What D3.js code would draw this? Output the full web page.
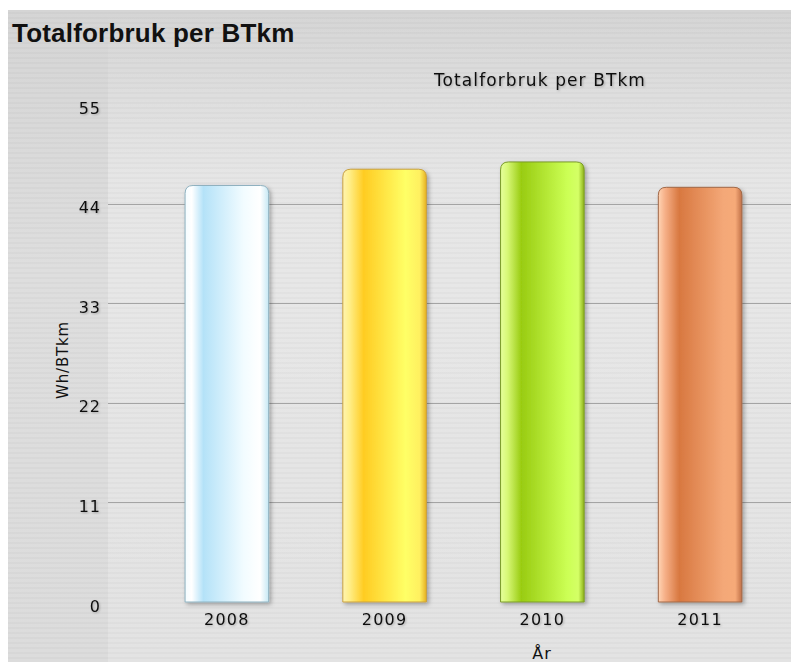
<!DOCTYPE html>
<html>
<head>
<meta charset="utf-8">
<script src="https://cdn.jsdelivr.net/npm/d3@7"></script>
<style>
    body { margin: 0; background: #fff; }
    svg text { font-family: "DejaVu Sans", Verdana, sans-serif; }
</style>
</head>
<body>
<svg id="chart" width="791" height="662"></svg>
<script>
const years = ["2008", "2009", "2010", "2011"];
const values = [46.0, 47.8, 48.6, 45.8];
const yTicks = [0, 11, 22, 33, 44, 55];
// gradient stops per bar: [offset, color]
const barStops = [
    [[0, "#f4fcff"], [0.08, "#ffffff"], [0.22, "#b4e2f8"], [0.7, "#f2fcff"], [0.9, "#ffffff"], [1, "#c6e8f4"]],
    [[0, "#fff4b0"], [0.08, "#ffee88"], [0.25, "#ffcc22"], [0.75, "#ffff66"], [0.92, "#fff060"], [1, "#e6b020"]],
    [[0, "#e6ff9c"], [0.08, "#d8f878"], [0.25, "#99cc11"], [0.8, "#ccff55"], [0.93, "#d4ff66"], [1, "#8cb018"]],
    [[0, "#ffd4b4"], [0.08, "#f6b088"], [0.25, "#d87840"], [0.78, "#f4a878"], [0.92, "#f6aa78"], [1, "#c07048"]]
];
const strokes = ["#8fb2c0", "#c8a040", "#7a9a28", "#a06848"];

const svg = d3.select("#chart");
const margin = { left: 108, top: 104, bottom: 602 };

const x = d3.scaleBand().domain(years).range([148, 779]).paddingInner(0.47).paddingOuter(0.235);
const y = d3.scaleLinear().domain([0, 55]).range([margin.bottom, margin.top]);

const defs = svg.append("defs");

// background: vertical gradient plus faint horizontal streaks
const bg = defs.append("linearGradient").attr("id", "bg")
    .attr("x1", 0).attr("x2", 0).attr("y1", 0).attr("y2", 1);
bg.append("stop").attr("offset", 0).attr("stop-color", "#d5d5d5");
bg.append("stop").attr("offset", 0.4).attr("stop-color", "#dedede");
bg.append("stop").attr("offset", 1).attr("stop-color", "#dcdcdc");

const streak = defs.append("pattern").attr("id", "streak")
    .attr("width", 8).attr("height", 5).attr("patternUnits", "userSpaceOnUse");
streak.append("rect").attr("y", 2).attr("width", 8).attr("height", 2)
    .attr("fill", "#000").attr("opacity", 0.025);

const plotBg = defs.append("linearGradient").attr("id", "plotbg")
    .attr("x1", 0).attr("x2", 0).attr("y1", 0).attr("y2", 1);
plotBg.append("stop").attr("offset", 0).attr("stop-color", "#fff").attr("stop-opacity", 0);
plotBg.append("stop").attr("offset", 0.25).attr("stop-color", "#fff").attr("stop-opacity", 0.3);
plotBg.append("stop").attr("offset", 1).attr("stop-color", "#fff").attr("stop-opacity", 0.2);

const shadow = defs.append("filter").attr("id", "shadow")
    .attr("x", "-20%").attr("y", "-20%").attr("width", "140%").attr("height", "140%");
shadow.append("feDropShadow").attr("dx", 2).attr("dy", 2).attr("stdDeviation", 2)
    .attr("flood-color", "#000").attr("flood-opacity", 0.3);

const textShadow = defs.append("filter").attr("id", "tshadow")
    .attr("x", "-20%").attr("y", "-40%").attr("width", "140%").attr("height", "180%");
textShadow.append("feDropShadow").attr("dx", 1).attr("dy", 1).attr("stdDeviation", 1)
    .attr("flood-color", "#000").attr("flood-opacity", 0.25);

barStops.forEach((stops, i) => {
    const g = defs.append("linearGradient").attr("id", "bar" + i)
        .attr("x1", 0).attr("x2", 1).attr("y1", 0).attr("y2", 0);
    stops.forEach(s => g.append("stop").attr("offset", s[0]).attr("stop-color", s[1]));
});

svg.append("rect").attr("x", 8).attr("y", 10).attr("width", 783).attr("height", 652)
    .attr("fill", "url(#bg)");
svg.append("rect").attr("x", margin.left).attr("y", 10).attr("width", 791 - margin.left).attr("height", 652)
    .attr("fill", "url(#plotbg)");
svg.append("rect").attr("x", 8).attr("y", 10).attr("width", 783).attr("height", 652)
    .attr("fill", "url(#streak)");

// title
svg.append("text").attr("x", 12).attr("y", 42)
    .style("font-family", "'Liberation Sans', Arial, sans-serif")
    .style("font-weight", "bold").style("font-size", "26px").style("letter-spacing", "0.2px")
    .attr("fill", "#111")
    .text("Totalforbruk per BTkm");

svg.append("text").attr("x", 540).attr("y", 86).attr("text-anchor", "middle")
    .style("font-size", "17px").style("letter-spacing", "1.1px")
    .attr("fill", "#111").attr("filter", "url(#tshadow)")
    .text("Totalforbruk per BTkm");

// grid lines
svg.append("g").selectAll("line").data(yTicks.filter(d => d > 0 && d < 55)).join("line")
    .attr("x1", margin.left).attr("x2", 791)
    .attr("y1", d => Math.round(y(d)) + 0.5).attr("y2", d => Math.round(y(d)) + 0.5)
    .attr("stroke", "#a4a4a4").attr("stroke-width", 1);

// y axis labels, sitting a little below their grid line as in the original
const yAxis = d3.axisLeft(y).tickValues(yTicks).tickSize(0).tickPadding(0);
const yg = svg.append("g").attr("transform", "translate(101,4)").call(yAxis);
yg.select(".domain").remove();
yg.selectAll("text").style("font-size", "16px").style("letter-spacing", "1px")
    .attr("fill", "#111").attr("filter", "url(#tshadow)");

// bars
const r = 8;
svg.append("g").selectAll("path").data(years).join("path")
    .attr("d", (d, i) => {
        const x0 = x(d), x1 = x(d) + x.bandwidth(), y0 = y(values[i]), y1 = y(0);
        return `M${x0},${y1} L${x0},${y0 + r} Q${x0},${y0} ${x0 + r},${y0} L${x1 - r},${y0} Q${x1},${y0} ${x1},${y0 + r} L${x1},${y1} Z`;
    })
    .attr("fill", (d, i) => `url(#bar${i})`)
    .attr("stroke", (d, i) => strokes[i]).attr("stroke-width", 1)
    .attr("filter", "url(#shadow)");

// x axis labels
const xAxis = d3.axisBottom(x).tickSize(0).tickPadding(0);
const xg = svg.append("g").attr("transform", "translate(0,614)").call(xAxis);
xg.select(".domain").remove();
xg.selectAll("text").style("font-size", "16px").style("letter-spacing", "1.2px")
    .attr("fill", "#111").attr("filter", "url(#tshadow)");

svg.append("text").attr("x", 542).attr("y", 659).attr("text-anchor", "middle")
    .style("font-size", "16px").style("letter-spacing", "1px").attr("fill", "#111").text("År");

svg.append("text").attr("transform", "translate(68,360) rotate(-90)")
    .attr("text-anchor", "middle").style("font-size", "15px").style("letter-spacing", "0.8px")
    .attr("fill", "#111")
    .text("Wh/BTkm");
</script>
</body>
</html>
